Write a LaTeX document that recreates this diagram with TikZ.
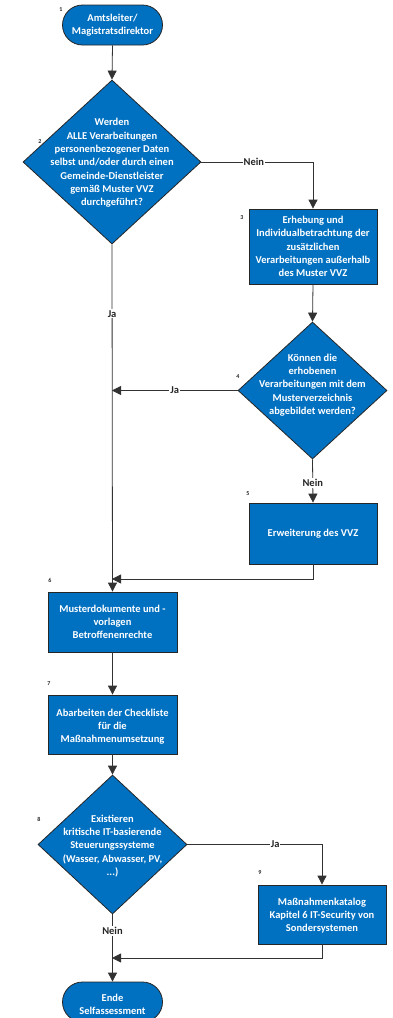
\documentclass[tikz,border=0pt]{standalone}
\usepackage{fontspec}
\setmainfont{Carlito}
\usetikzlibrary{shapes.geometric,arrows.meta}
\definecolor{fcblue}{RGB}{0,112,192}
\definecolor{fcline}{RGB}{50,50,50}
\tikzset{
  base/.style={draw=black!85, line width=0.8pt, fill=fcblue, inner sep=0pt},
  procbox/.style={base, rectangle, minimum width=128pt},
  termbox/.style={base, rectangle, rounded corners=20pt, minimum width=100pt, minimum height=40pt},
  dia/.style={base, diamond, inner sep=0pt},
  intext/.style={text=white, align=center, font=\fontsize{10.5}{13.3}\selectfont\bfseries, inner sep=0pt},
  numlbl/.style={font=\fontsize{6}{7}\selectfont\bfseries, text=black!85, inner sep=0pt},
  edgelbl/.style={font=\fontsize{10.5}{12}\selectfont\bfseries, fill=white, inner sep=1pt, text=black!85},
  conn/.style={draw=fcline, line width=0.8pt},
  arr/.style={conn, -{Triangle[length=9pt,width=9pt]}},
}
\begin{document}
\begin{tikzpicture}[x=1pt,y=-1pt]
\useasboundingbox (0,0) rectangle (392,1018);
\clip (0,0) rectangle (392,1018);
\fill[white] (0,0) rectangle (392,1018);

% nodes
\node[termbox] (n1) at (112.5,25) {};
\node[intext] (t1) at (n1) {Amtsleiter/\\Magistratsdirektor};

\node[dia, minimum width=178pt, minimum height=164pt] (n2) at (112,162) {};
\node[intext] (t2) at (112,163) {Werden\\ALLE Verarbeitungen\\personenbezogener Daten\\selbst und/oder durch einen\\Gemeinde-Dienstleister\\gemäß Muster VVZ\\durchgeführt?};

\node[procbox, minimum height=75pt] (n3) at (313,246.5) {};
\node[intext] (t3) at (n3) {Erhebung und\\Individualbetrachtung der\\zusätzlichen\\Verarbeitungen außerhalb\\des Muster VVZ};

\node[dia, minimum width=149pt, minimum height=137pt] (n4) at (312.5,390.5) {};
\node[intext] (t4) at (312.5,385) {Können die\\erhobenen\\Verarbeitungen mit dem\\Musterverzeichnis\\abgebildet werden?};

\node[procbox, minimum height=61pt] (n5) at (313,533.5) {};
\node[intext] (t5) at (n5) {Erweiterung des VVZ};

\node[procbox, minimum width=129pt, minimum height=60pt] (n6) at (112.5,622) {};
\node[intext] (t6) at (n6) {Musterdokumente und -\\vorlagen\\Betroffenenrechte};

\node[procbox, minimum width=129pt, minimum height=59pt] (n7) at (112.5,724.5) {};
\node[intext] (t7) at (112.5,726.5) {Abarbeiten der Checkliste\\für die\\Maßnahmenumsetzung};

\node[dia, minimum width=149pt, minimum height=139pt] (n8) at (112.5,844.5) {};
\node[intext] (t8) at (112.5,846) {Existieren\\kritische IT-basierende\\Steuerungssysteme\\(Wasser, Abwasser, PV,\\...)};

\node[procbox, minimum height=59pt] (n9) at (322,914.5) {};
\node[intext] (t9) at (322,915.5) {Maßnahmenkatalog\\Kapitel 6 IT-Security von\\Sondersystemen};

\node[termbox] (n10) at (112.5,1002) {};
\node[intext] (t10) at (112.5,1004) {Ende\\Selfassessment};

% step numbers
\node[numlbl] (l1) at (61,10) {1};
\node[numlbl] (l2) at (40,142) {2};
\node[numlbl] (l3) at (242,218) {3};
\node[numlbl] (l4) at (238,377) {4};
\node[numlbl] (l5) at (248,494) {5};
\node[numlbl] (l6) at (50,580) {6};
\node[numlbl] (l7) at (49,684) {7};
\node[numlbl] (l8) at (39,819) {8};
\node[numlbl] (l9) at (260,873) {9};

% junction coordinates
\coordinate (j4) at (112,390.5);
\coordinate (j5) at (112,579);
\coordinate (j9) at (112,958);

% connectors
\draw[arr] (n1.south) -- (n2.north);
\draw[arr] (n2.east) -| (n3.north) node[pos=0.235, edgelbl] (e1) {Nein};
\draw[arr] (n2.south) -- (n6.north) node[pos=0.2, edgelbl] (e2) {Ja};
\draw[arr] (n3.south) -- (n4.north);
\draw[arr] (n4.west) -- (j4) node[pos=0.5, edgelbl] (e3) {Ja};
\draw[arr] (n4.south) -- (n5.north) node[pos=0.55, edgelbl] (e4) {Nein};
\draw[arr] (n5.south) |- (j5);
\draw[arr] (n6.south) -- (n7.north);
\draw[arr] (n7.south) -- (n8.north);
\draw[arr] (n8.east) -| (n9.north) node[pos=0.326, edgelbl] (e5) {Ja};
\draw[arr] (n8.south) -- (n10.north) node[pos=0.25, edgelbl] (e6) {Nein};
\draw[arr] (n9.south) |- (j9);
\end{tikzpicture}
\end{document}
